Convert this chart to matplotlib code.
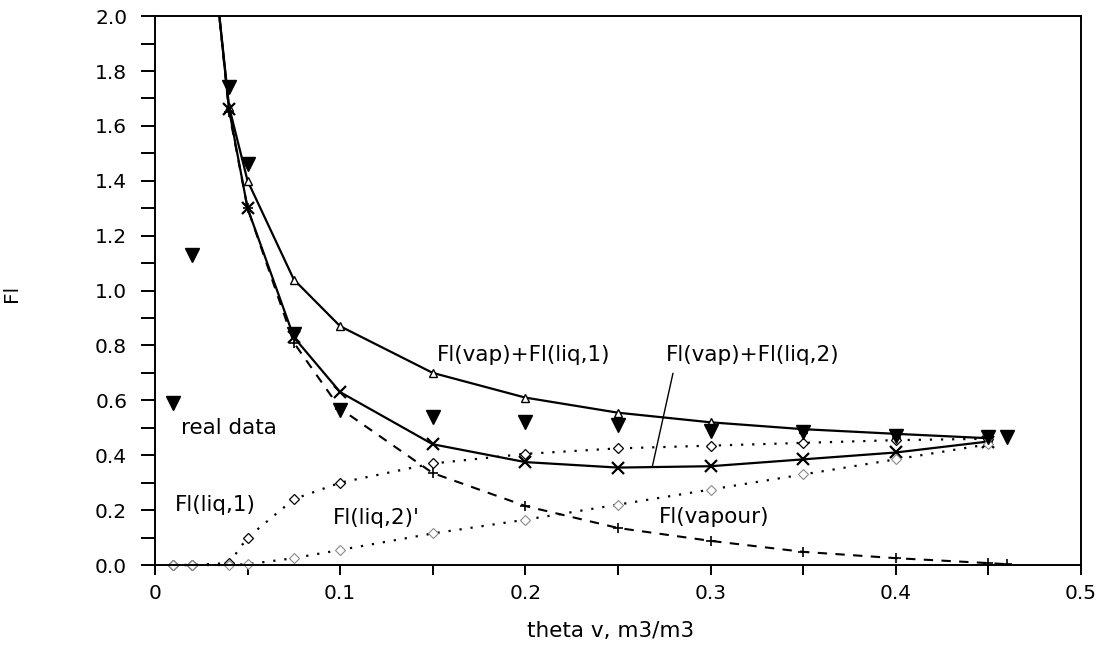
"""
Fl components versus volumetric water content theta v.
"""

import matplotlib.pyplot as plt
from matplotlib.ticker import MultipleLocator, FixedLocator, FixedFormatter

# measured values
theta_real = [0.01, 0.02, 0.04, 0.05, 0.075, 0.1, 0.15, 0.2, 0.25, 0.3, 0.35, 0.4, 0.45, 0.46]
fl_real    = [0.59, 1.13, 1.74, 1.46, 0.84, 0.565, 0.54, 0.52, 0.51, 0.49, 0.485, 0.47, 0.465, 0.465]

# model curves
theta_vap = [0.034, 0.04, 0.05, 0.075, 0.1, 0.15, 0.2, 0.25, 0.3, 0.35, 0.4, 0.45, 0.46]
fl_vapour = [2.05, 1.65, 1.30, 0.81, 0.57, 0.335, 0.215, 0.135, 0.088, 0.048, 0.025, 0.007, 0.003]

theta_sum = [0.034, 0.04, 0.05, 0.075, 0.1, 0.15, 0.2, 0.25, 0.3, 0.35, 0.4, 0.45]
fl_vap_liq1 = [2.05, 1.67, 1.40, 1.04, 0.87, 0.70, 0.61, 0.555, 0.52, 0.495, 0.478, 0.462]
fl_vap_liq2 = [2.05, 1.66, 1.30, 0.83, 0.63, 0.44, 0.375, 0.355, 0.36, 0.385, 0.41, 0.45]

theta_liq = [0.01, 0.02, 0.04, 0.05, 0.075, 0.1, 0.15, 0.2, 0.25, 0.3, 0.35, 0.4, 0.45]
fl_liq1 = [0.0, 0.0, 0.007, 0.10, 0.24, 0.30, 0.37, 0.405, 0.425, 0.435, 0.445, 0.455, 0.46]
fl_liq2 = [0.0, 0.0, 0.0, 0.003, 0.025, 0.055, 0.115, 0.165, 0.22, 0.275, 0.33, 0.385, 0.44]

x_ticks = [0, 0.1, 0.2, 0.3, 0.4, 0.5]
x_labels = ["0", "0.1", "0.2", "0.3", "0.4", "0.5"]
y_ticks = [0.0, 0.2, 0.4, 0.6, 0.8, 1.0, 1.2, 1.4, 1.6, 1.8, 2.0]
y_labels = ["%.1f" % v for v in y_ticks]

FS = 14.5     # ticks and axis labels
FS_TXT = 15.5 # curve labels

fig = plt.figure(figsize=(11.03, 6.45), dpi=100)
ax = fig.add_axes([0.1405, 0.124, 0.8395, 0.851])

ax.plot(theta_vap, fl_vapour, color="black", lw=1.5, ls=(0, (4.5, 4)),
        marker="+", ms=7, mew=1.2)
ax.plot(theta_sum, fl_vap_liq1, color="black", lw=1.6, marker="^", ms=6,
        mfc="white", mec="black", mew=1.0)
ax.plot(theta_sum, fl_vap_liq2, color="black", lw=1.6, marker="x", ms=8, mew=1.6)
ax.plot(theta_liq, fl_liq1, color="black", lw=1.6, ls=(0, (1, 4)), marker="D", ms=5,
        mfc="white", mec="black", mew=0.9, clip_on=False)
ax.plot(theta_liq, fl_liq2, color="black", lw=1.6, ls=(0, (1, 4)), marker="D", ms=5,
        mfc="white", mec="#8a8a8a", mew=0.8, clip_on=False)
ax.plot(theta_real, fl_real, ls="none", marker="v", ms=10, color="black", zorder=5)

# curve labels
ax.text(0.152, 0.765, "Fl(vap)+Fl(liq,1)", fontsize=FS_TXT, va="center")
ax.annotate("Fl(vap)+Fl(liq,2)", xy=(0.2686, 0.36), xytext=(0.276, 0.765),
            fontsize=FS_TXT, va="center",
            arrowprops=dict(arrowstyle="-", color="black", lw=1.0,
                            relpos=(0.05, 0.0), shrinkA=4, shrinkB=0))
ax.text(0.014, 0.50, "real data", fontsize=FS_TXT, va="center")
ax.text(0.011, 0.22, "Fl(liq,1)", fontsize=FS_TXT, va="center")
ax.text(0.096, 0.17, "Fl(liq,2)'", fontsize=FS_TXT, va="center")
ax.text(0.272, 0.175, "Fl(vapour)", fontsize=FS_TXT, va="center")

ax.set_xlim(0, 0.5)
ax.set_ylim(0, 2.0)

ax.xaxis.set_major_locator(FixedLocator(x_ticks))
ax.xaxis.set_major_formatter(FixedFormatter(x_labels))
ax.xaxis.set_minor_locator(MultipleLocator(0.05))
ax.yaxis.set_major_locator(FixedLocator(y_ticks))
ax.yaxis.set_major_formatter(FixedFormatter(y_labels))
ax.yaxis.set_minor_locator(MultipleLocator(0.1))

ax.tick_params(axis="x", which="both", direction="out", length=7, width=1.4,
               labelsize=FS, pad=7)
ax.tick_params(axis="y", which="both", direction="out", length=10, width=1.4,
               labelsize=FS, pad=10)

for s in ax.spines.values():
    s.set_linewidth(1.4)

ax.set_xlabel("theta v, m3/m3", fontsize=FS_TXT)
ax.xaxis.set_label_coords(0.492, -0.102)
ax.set_ylabel("Fl", fontsize=FS)
ax.yaxis.set_label_coords(-0.145, 0.495)

fig.savefig("out.png", dpi=100)
